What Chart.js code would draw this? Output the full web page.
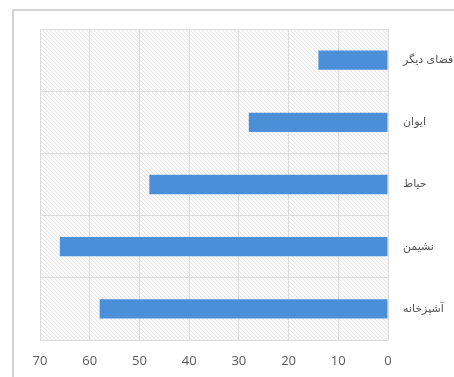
<!DOCTYPE html>
<html>
<head>
<meta charset="utf-8">
<script src="https://cdn.jsdelivr.net/npm/chart.js@4/dist/chart.umd.min.js"></script>
<style>
html,body{margin:0;padding:0;background:#fff;}
#wrap{width:454px;height:377px;position:relative;}
</style>
</head>
<body>
<div id="wrap"><canvas id="c" width="454" height="377"></canvas></div>
<script>
const categories = ["فضای دیگر", "ایوان", "حیاط", "نشیمن", "آشپزخانه"];
const values = [14, 28, 48, 66, 58];
const xTicks = [0, 10, 20, 30, 40, 50, 60, 70];

const framePlugin = {
  id: 'frame',
  beforeDraw(chart) {
    const ctx = chart.ctx;
    ctx.save();
    ctx.fillStyle = '#fff';
    ctx.fillRect(0, 0, chart.width, chart.height);
    ctx.strokeStyle = '#d4d4d4';
    ctx.lineWidth = 2;
    ctx.beginPath();
    ctx.moveTo(13, chart.height);
    ctx.lineTo(13, 10);
    ctx.lineTo(chart.width, 10);
    ctx.stroke();
    ctx.restore();
  }
};
const hatchPlugin = {
  id: 'hatch',
  beforeDraw(chart) {
    const a = chart.chartArea;
    const ctx = chart.ctx;
    const tile = document.createElement('canvas');
    tile.width = 4; tile.height = 4;
    const t = tile.getContext('2d');
    t.fillStyle = '#fafafa';
    t.fillRect(0, 0, 4, 4);
    t.fillStyle = '#e6e6e6';
    for (let i = 0; i < 4; i++) t.fillRect(i, i, 1, 1);
    const pat = ctx.createPattern(tile, 'repeat');
    ctx.save();
    ctx.fillStyle = pat;
    ctx.fillRect(a.left, a.top, a.right - a.left, a.bottom - a.top);
    ctx.restore();
  }
};

new Chart(document.getElementById('c'), {
  type: 'bar',
  data: {
    labels: categories,
    datasets: [{
      data: values,
      backgroundColor: '#4a8fd8',
      borderWidth: 0,
      barPercentage: 0.31,
      categoryPercentage: 1.0
    }]
  },
  options: {
    indexAxis: 'y',
    responsive: false,
    animation: false,
    layout: { padding: { left: 40, top: 29, right: 0, bottom: 0 } },
    plugins: { legend: { display: false }, tooltip: { enabled: false } },
    scales: {
      x: {
        reverse: true,
        min: 0, max: 70,
        afterBuildTicks(scale) { scale.ticks = xTicks.map(v => ({ value: v })); },
        afterFit(scale) { scale.height = 37; },
        grid: { color: '#dcdcdc', drawTicks: false },
        border: { display: false },
        ticks: { color: '#595959', font: { family: 'Open Sans', size: 13 }, padding: 13 }
      },
      y: {
        position: 'right',
        afterFit(scale) { scale.width = 66; },
        grid: { color: '#dcdcdc', drawTicks: false, offset: true },
        border: { display: false },
        ticks: { color: '#505050', font: { family: 'DejaVu Sans', size: 11 }, padding: 15, crossAlign: 'near' }
      }
    }
  },
  plugins: [framePlugin, hatchPlugin]
});
</script>
</body>
</html>
